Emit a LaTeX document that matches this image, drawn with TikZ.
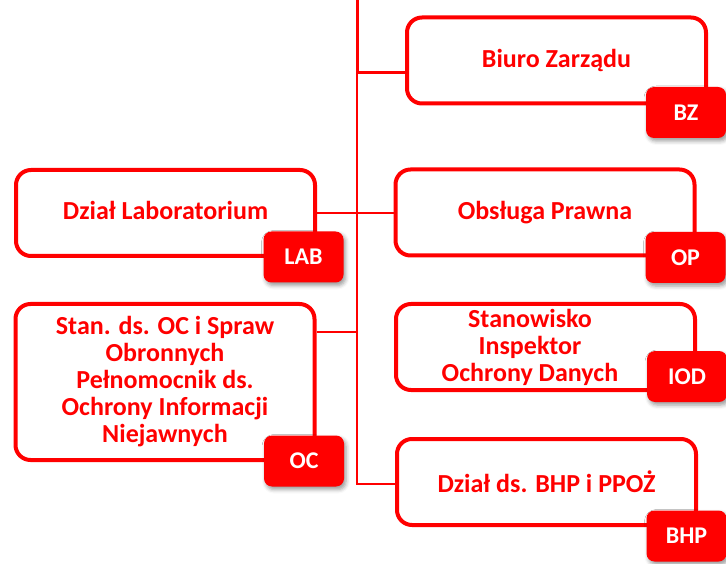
\documentclass[tikz,border=0pt]{standalone}
\usepackage{fontspec}
\setmainfont{Carlito}
\usetikzlibrary{positioning}
\usetikzlibrary{shadows.blur}
\definecolor{orgred}{RGB}{255,0,0}

\begin{document}
\begin{tikzpicture}[x=1pt,y=-1pt,
  unitbox/.style={draw=orgred, line width=4pt, rounded corners=15pt, fill=white,
    minimum width=299pt, minimum height=86pt, inner sep=0pt, text=orgred,
    font=\fontsize{26}{27}\selectfont\bfseries, align=center},
  unittext/.style={text=orgred, inner sep=0pt, align=center,
    font=\fontsize{26}{27}\selectfont\bfseries},
  badge/.style={fill=orgred, rounded corners=8pt, minimum width=80pt,
    minimum height=51pt, inner sep=0pt, text=white,
    font=\fontsize{24}{26}\selectfont\bfseries,
    blur shadow={shadow xshift=2pt, shadow yshift=-3pt, shadow blur radius=4pt, shadow opacity=40}},
  link/.style={draw=orgred, line width=2pt}]
\useasboundingbox (0,0) rectangle (726,564);

% spine
\coordinate (top) at (357,0);
\coordinate (bzj) at (357,73);
\coordinate (ocj) at (357,332);
\coordinate (bhpj) at (357,484);

% units on the right
\node[unitbox] (bz) at (556.5,60.5) {Biuro Zarządu\vphantom{g}};
\node[unitbox] (op) at (545,212.5) {Obsługa Prawna};
\node[unitbox] (iod) at (545.5,347) {};
\node[unittext] (iodtext) at (530,347) {Stanowisko\\Inspektor\\Ochrony Danych};
\node[unitbox] (bhp) at (546.5,482) {Dział ds. BHP i PPOŻ};

% units on the left
\node[unitbox] (lab) at (165.5,213) {Dział Laboratorium\vphantom{g}};
\node[unitbox, minimum height=156pt] (oc) at (165,382)
  {Stan. ds. OC i Spraw\\Obronnych\\Pełnomocnik ds.\\Ochrony Informacji\\Niejawnych};

% connectors
\draw[link, line width=3pt] (top) -- (bzj) -- (bzj -| bz.west);
\draw[link] (bzj) -- (bhpj) -- (bhpj -| bhp.west);
\draw[link] (lab.east) -- (lab.east -| op.west);
\draw[link] (ocj) -- (ocj -| oc.east);

% badges
\node[badge] (bzbadge) at (686,112.5) {BZ};
\node[badge] (opbadge) at (685.5,257.5) {OP};
\node[badge] (iodbadge) at (687,376.5) {IOD};
\node[badge] (bhpbadge) at (686.5,536) {BHP};
\node[badge] (labbadge) at (303.5,257) {LAB};
\node[badge] (ocbadge) at (304,461) {OC};
\end{tikzpicture}
\end{document}
